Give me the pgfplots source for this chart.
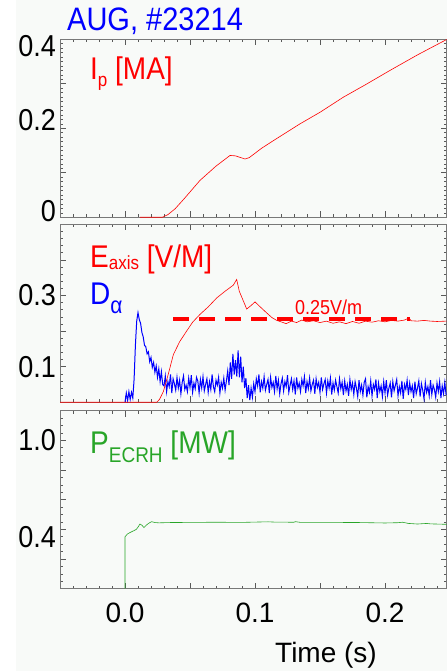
\documentclass[border=0pt]{standalone}
\usepackage{graphicx}
\usepackage{pgfplots}
\pgfplotsset{compat=1.18}
\usepackage{fontspec}
\setmainfont{Liberation Sans}

\definecolor{bgc}{RGB}{248,250,248}
\definecolor{eRed}{RGB}{255,0,0}
\definecolor{dBlue}{RGB}{0,0,255}
\definecolor{pGreen}{RGB}{40,165,40}
\definecolor{axgray}{RGB}{120,120,120}

\newcommand{\sz}[1]{\fontsize{#1}{#1}\selectfont}
\newcommand{\tall}[1]{\scalebox{1}[1.12]{#1}}
\newcommand{\sub}[3][17]{\raisebox{#2}{\sz{#1}#3}}

\pgfplotsset{
  panel/.style={
    scale only axis, width=386.5pt, height=178pt,
    xmin=-0.05, xmax=0.2473,
    xtick={-0.05,0,0.05,0.1,0.15,0.2,0.25}, minor x tick num=4,
    xticklabels={},
    axis background/.style={fill=bgc},
    axis line style={axgray, line width=0.8pt},
    tick style={black!65, line width=0.6pt},
    major tick length=6pt, minor tick length=3pt,
    tick align=inside,
    yticklabel style={font=\sz{27}, inner sep=1pt, xshift=-3pt},
    xticklabel style={font=\sz{28}, yshift=-11pt},
    extra y tick style={major tick length=0pt},
  },
}

\begin{document}
\begin{tikzpicture}[x=1pt,y=1pt]
\path[use as bounding box] (0,0) rectangle (447,671);
\fill[bgc] (16,0) rectangle (447,671);

% panel 1: plasma current
\begin{axis}[panel, at={(60pt,631.7pt)}, anchor=north west,
  ymin=0, ymax=0.4, ytick={0,0.1,0.2,0.3,0.4}, yticklabels={},
  minor y tick num=9,
  extra y ticks={0.015,0.219,0.385},
  extra y tick labels={\tall{0},\tall{0.2},\tall{0.4}}]
\addplot[eRed, line width=0.6pt] coordinates {
  (0.0115,0) (0.0287,0) (0.033,0.006) (0.0385,0.019) (0.045,0.040)
  (0.0577,0.083) (0.070,0.115) (0.0808,0.139) (0.085,0.138) (0.0923,0.131)
  (0.0955,0.134) (0.0987,0.141) (0.105,0.155) (0.114,0.172) (0.1346,0.210)
  (0.150,0.236) (0.168,0.270) (0.185,0.298) (0.2038,0.330) (0.225,0.365)
  (0.2474,0.3995)};
\end{axis}

% panel 2: loop voltage and D-alpha
\begin{axis}[panel, at={(60pt,446.7pt)}, anchor=north west,
  ymin=0, ymax=0.5, ytick={0,0.1,0.2,0.3,0.4,0.5},
  yticklabels={,\tall{0.1},,\tall{0.3},,},
  minor y tick num=4]
\addplot[dBlue, line width=1pt] coordinates {
  (0.000,0.000) (0.001,0.026) (0.002,0.005) (0.003,0.030) (0.004,0.008)
  (0.005,0.028) (0.006,0.012) (0.007,0.065) (0.008,0.160) (0.009,0.228)
  (0.010,0.252) (0.011,0.232) (0.012,0.222) (0.013,0.196) (0.014,0.184)
  (0.015,0.160) (0.016,0.156) (0.017,0.136) (0.018,0.142) (0.019,0.114)
  (0.020,0.126) (0.021,0.098) (0.022,0.112) (0.023,0.084) (0.024,0.102)
  (0.025,0.070) (0.026,0.094) (0.027,0.058) (0.028,0.086) (0.029,0.050)
  (0.030,0.046) (0.031,0.074) (0.032,0.030) (0.033,0.058) (0.034,0.044)
  (0.035,0.078) (0.036,0.026) (0.037,0.066) (0.038,0.052) (0.039,0.034)
  (0.040,0.070) (0.041,0.040) (0.042,0.062) (0.043,0.024) (0.044,0.056)
  (0.045,0.074) (0.046,0.036) (0.047,0.048) (0.048,0.030) (0.049,0.068)
  (0.050,0.042) (0.051,0.076) (0.052,0.028) (0.053,0.054) (0.054,0.038)
  (0.055,0.070) (0.056,0.060) (0.057,0.026) (0.058,0.064) (0.059,0.040)
  (0.060,0.072) (0.061,0.032) (0.062,0.050) (0.063,0.066) (0.064,0.028)
  (0.065,0.058) (0.066,0.036) (0.067,0.078) (0.068,0.044) (0.069,0.030)
  (0.070,0.062) (0.071,0.048) (0.072,0.070) (0.073,0.026) (0.074,0.056)
  (0.075,0.040) (0.076,0.068) (0.077,0.034) (0.078,0.060) (0.079,0.088)
  (0.080,0.048) (0.081,0.112) (0.082,0.066) (0.083,0.136) (0.084,0.078)
  (0.085,0.118) (0.086,0.072) (0.087,0.146) (0.088,0.070) (0.089,0.128)
  (0.090,0.056) (0.091,0.100) (0.092,0.040) (0.093,0.068) (0.094,0.012)
  (0.095,0.048) (0.096,0.006) (0.097,0.040) (0.098,0.014) (0.099,0.052)
  (0.100,0.030) (0.101,0.066) (0.102,0.046) (0.103,0.078) (0.104,0.028)
  (0.105,0.058) (0.106,0.040) (0.107,0.072) (0.108,0.034) (0.109,0.050)
  (0.110,0.064) (0.111,0.026) (0.112,0.070) (0.113,0.042) (0.114,0.056)
  (0.115,0.030) (0.116,0.074) (0.117,0.038) (0.118,0.062) (0.119,0.024)
  (0.120,0.052) (0.121,0.068) (0.122,0.032) (0.123,0.058) (0.124,0.044)
  (0.125,0.076) (0.126,0.028) (0.127,0.048) (0.128,0.066) (0.129,0.036)
  (0.130,0.060) (0.131,0.022) (0.132,0.070) (0.133,0.040) (0.134,0.054)
  (0.135,0.030) (0.136,0.064) (0.137,0.046) (0.138,0.072) (0.139,0.026)
  (0.140,0.058) (0.141,0.038) (0.142,0.068) (0.143,0.032) (0.144,0.050)
  (0.145,0.062) (0.146,0.024) (0.147,0.066) (0.148,0.042) (0.149,0.056)
  (0.150,0.028) (0.151,0.070) (0.152,0.036) (0.153,0.052) (0.154,0.064)
  (0.155,0.026) (0.156,0.060) (0.157,0.040) (0.158,0.068) (0.159,0.022)
  (0.160,0.054) (0.161,0.034) (0.162,0.062) (0.163,0.044) (0.164,0.026)
  (0.165,0.066) (0.166,0.038) (0.167,0.056) (0.168,0.020) (0.169,0.060)
  (0.170,0.032) (0.171,0.050) (0.172,0.018) (0.173,0.064) (0.174,0.036)
  (0.175,0.054) (0.176,0.022) (0.177,0.058) (0.178,0.040) (0.179,0.016)
  (0.180,0.062) (0.181,0.030) (0.182,0.048) (0.183,0.020) (0.184,0.056)
  (0.185,0.066) (0.186,0.014) (0.187,0.044) (0.188,0.028) (0.189,0.060)
  (0.190,0.018) (0.191,0.050) (0.192,0.036) (0.193,0.064) (0.194,0.012)
  (0.195,0.054) (0.196,0.030) (0.197,0.046) (0.198,0.016) (0.199,0.058)
  (0.200,0.026) (0.201,0.062) (0.202,0.020) (0.203,0.040) (0.204,0.054)
  (0.205,0.014) (0.206,0.058) (0.207,0.032) (0.208,0.048) (0.209,0.064)
  (0.210,0.018) (0.211,0.044) (0.212,0.026) (0.213,0.060) (0.214,0.010)
  (0.215,0.050) (0.216,0.036) (0.217,0.062) (0.218,0.020) (0.219,0.054)
  (0.220,0.030) (0.221,0.046) (0.222,0.012) (0.223,0.058) (0.224,0.024)
  (0.225,0.040) (0.226,0.060) (0.227,0.016) (0.228,0.052) (0.229,0.034)
  (0.230,0.010) (0.231,0.056) (0.232,0.028) (0.233,0.044) (0.234,0.018)
  (0.235,0.062) (0.236,0.022) (0.237,0.048) (0.238,0.036) (0.239,0.014)
  (0.240,0.054) (0.241,0.030) (0.242,0.058) (0.243,0.012) (0.244,0.046)
  (0.245,0.024) (0.246,0.056) (0.247,0.020)};
\addplot[eRed, line width=0.6pt] coordinates {
  (-0.05,0) (0.0244,0) (0.0265,0.008) (0.0295,0.030) (0.033,0.075)
  (0.0372,0.134) (0.042,0.170) (0.0474,0.200) (0.052,0.225) (0.0577,0.247)
  (0.064,0.268) (0.0705,0.293) (0.077,0.312) (0.0833,0.329) (0.0859,0.345)
  (0.0879,0.312) (0.091,0.285) (0.0936,0.262) (0.097,0.272) (0.100,0.282)
  (0.104,0.268) (0.109,0.251) (0.113,0.238) (0.1167,0.230) (0.120,0.226)
  (0.124,0.221) (0.128,0.228) (0.132,0.224) (0.136,0.231) (0.140,0.226)
  (0.145,0.229) (0.150,0.224) (0.155,0.228) (0.160,0.222) (0.165,0.226)
  (0.170,0.221) (0.175,0.227) (0.180,0.222) (0.185,0.228) (0.190,0.225)
  (0.195,0.229) (0.200,0.226) (0.205,0.230) (0.210,0.228) (0.215,0.231)
  (0.2185,0.237) (0.220,0.229) (0.225,0.228) (0.230,0.230) (0.235,0.228)
  (0.240,0.227) (0.2473,0.228)};
\addplot[eRed, line width=3.8pt, dash pattern=on 16pt off 10pt] coordinates {
  (0.0372,0.234) (0.219,0.234)};
\end{axis}

% panel 3: ECRH power
\begin{axis}[panel, at={(60pt,260.3pt)}, anchor=north west,
  ymin=0, ymax=1.2, ytick={0,0.2,0.4,0.6,0.8,1.0,1.2}, yticklabels={},
  minor y tick num=3,
  extra y ticks={0.348,1.0},
  extra y tick labels={\tall{0.4},\tall{1.0}},
  xticklabels={,0.0,,0.1,,0.2}]
\addplot[pGreen, line width=0.6pt] coordinates {
  (0,0) (0,0.35) (0.002,0.37) (0.0051,0.384) (0.007,0.392) (0.0087,0.40)
  (0.010,0.415) (0.0115,0.436) (0.013,0.428) (0.0146,0.412) (0.016,0.425)
  (0.018,0.44) (0.0205,0.452) (0.023,0.446) (0.026,0.444) (0.035,0.446)
  (0.05,0.447) (0.07,0.448) (0.09,0.447) (0.11,0.451) (0.115,0.449)
  (0.13,0.448) (0.131,0.452) (0.135,0.447) (0.16,0.447) (0.18,0.446)
  (0.20,0.443) (0.21,0.445) (0.2135,0.448) (0.218,0.440) (0.225,0.436)
  (0.232,0.440) (0.235,0.437) (0.2473,0.434)};
\end{axis}

% annotations
\node[anchor=base west, inner sep=0, text=dBlue, font=\sz{29}] at (67,640.3) {\tall{AUG, \#23214}};
\node[anchor=base west, inner sep=0, text=eRed, font=\sz{28}] at (90,591) {\tall{I\sub{-6pt}{p} [MA]}};
\node[anchor=base west, inner sep=0, text=eRed, font=\sz{28}] at (90,403.3) {\tall{E\sub{-2pt}{axis} [V/M]}};
\node[anchor=base west, inner sep=0, text=dBlue, font=\sz{28}] at (90,366.7) {\tall{D\sub[21]{-8pt}{α}}};
\node[anchor=base west, inner sep=0, text=eRed, font=\sz{18}] at (295,356) {\tall{0.25V/m}};
\node[anchor=base west, inner sep=0, text=pGreen, font=\sz{28}] at (90,217.7) {\tall{P\sub[19]{-8pt}{ECRH} [MW]}};
\node[anchor=base, inner sep=0, font=\sz{28}] at (326,8.3) {Time (s)};
\end{tikzpicture}
\end{document}
